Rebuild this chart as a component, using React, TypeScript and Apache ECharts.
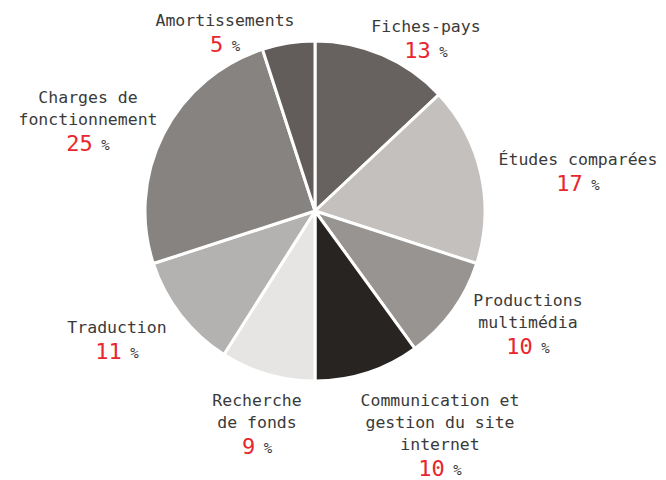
import React, { useEffect, useRef } from "react";
import * as echarts from "echarts";

const categories = [
  "Fiches-pays",
  "Études comparées",
  "Productions\nmultimédia",
  "Communication et\ngestion du site\ninternet",
  "Recherche\nde fonds",
  "Traduction",
  "Charges de\nfonctionnement",
  "Amortissements",
];
const values = [13, 17, 10, 10, 9, 11, 25, 5];
const colors = [
  "#67625f",
  "#c3c0be",
  "#979492",
  "#282422",
  "#e6e5e3",
  "#b3b2b0",
  "#878380",
  "#625d5a",
];

// label anchor (block centre x, block top y) for each slice
const labelAnchors: [number, number][] = [
  [426, 15],
  [578, 148],
  [528, 289],
  [440, 389],
  [257, 389],
  [117, 316],
  [88, 86],
  [225, 9],
];

const FONT = "'DejaVu Sans Mono', 'Liberation Mono', monospace";

export default function App() {
  const ref = useRef<HTMLDivElement>(null);
  useEffect(() => {
    if (!ref.current) return;
    const chart = echarts.init(ref.current, undefined, { renderer: "svg" });
    chart.setOption({
      animation: false,
      backgroundColor: "#ffffff",
      series: [
        {
          type: "pie",
          center: [315, 211],
          radius: [0, 170],
          startAngle: 90,
          clockwise: true,
          avoidLabelOverlap: false,
          itemStyle: { borderColor: "#ffffff", borderWidth: 3 },
          labelLine: { show: false },
          label: {
            show: true,
            position: "outside",
            fontFamily: FONT,
            formatter: (p: any) =>
              String(p.name)
                .split("\n")
                .map((l: string) => `{n|${l}}`)
                .join("\n") + `\n{v|${p.value}}{p| %}`,
            rich: {
              n: {
                fontFamily: FONT,
                fontSize: 16.5,
                color: "#3a3a3a",
                lineHeight: 22,
                align: "center",
              },
              v: {
                fontFamily: FONT,
                fontSize: 22,
                color: "#e8262d",
                lineHeight: 27,
                align: "center",
              },
              p: {
                fontFamily: FONT,
                fontSize: 14,
                color: "#3a3a3a",
                lineHeight: 27,
                align: "center",
                padding: [3, 0, 0, 0],
              },
            },
          },
          labelLayout: (params: any) => {
            const a = labelAnchors[params.dataIndex];
            return { x: a[0], y: a[1], align: "center", verticalAlign: "top" };
          },
          data: categories.map((name, i) => ({
            name,
            value: values[i],
            itemStyle: { color: colors[i] },
          })),
        },
      ],
    });
    return () => chart.dispose();
  }, []);
  return (
    <div
      ref={ref}
      style={{ position: "absolute", left: 0, top: 0, width: 666, height: 480 }}
    />
  );
}
